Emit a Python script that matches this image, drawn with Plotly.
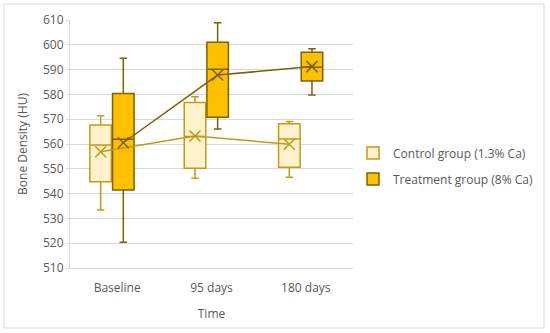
import plotly.graph_objects as go

categories = ["Baseline", "95 days", "180 days"]

ctrl_name = "Control group (1.3% Ca)"
ctrl_min = [533.4, 546.2, 546.6]
ctrl_q1 = [544.8, 550.2, 550.6]
ctrl_med = [559.6, 563.0, 562.0]
ctrl_q3 = [567.7, 576.7, 568.2]
ctrl_max = [571.4, 579.1, 569.1]
ctrl_mean = [556.9, 563.2, 559.9]

trt_name = "Treatment group (8% Ca)"
trt_min = [520.4, 566.0, 579.8]
trt_q1 = [541.5, 570.8, 585.4]
trt_med = [561.9, 590.1, 590.9]
trt_q3 = [580.4, 601.0, 597.0]
trt_max = [594.6, 608.9, 598.4]
trt_mean = [560.5, 587.8, 591.2]

y_ticks = list(range(510, 611, 10))

CTRL_FILL, CTRL_LINE = "#FFF2CC", "#C49A12"
TRT_FILL, TRT_LINE = "#FFC000", "#7F6000"
CTRL_OFF, TRT_OFF, BOX_W = -0.175, 0.065, 0.228
TXT = "#595959"
FONT = "Open Sans"

idx = list(range(len(categories)))
cx = [i + CTRL_OFF for i in idx]
tx = [i + TRT_OFF for i in idx]

fig = go.Figure()
fig.add_trace(go.Box(
    x=cx, q1=ctrl_q1, median=ctrl_med, q3=ctrl_q3,
    lowerfence=ctrl_min, upperfence=ctrl_max,
    width=BOX_W, whiskerwidth=0.35, fillcolor=CTRL_FILL,
    line=dict(color=CTRL_LINE, width=1.5), name=ctrl_name,
    legendgroup="c", hoverinfo="skip"))
fig.add_trace(go.Box(
    x=tx, q1=trt_q1, median=trt_med, q3=trt_q3,
    lowerfence=trt_min, upperfence=trt_max,
    width=BOX_W, whiskerwidth=0.35, fillcolor=TRT_FILL,
    line=dict(color=TRT_LINE, width=1.5), name=trt_name,
    legendgroup="t", hoverinfo="skip"))
fig.add_trace(go.Scatter(
    x=cx, y=ctrl_mean, mode="lines+markers", showlegend=False,
    line=dict(color=CTRL_LINE, width=1.5),
    marker=dict(symbol="x-thin-open", size=11,
                line=dict(color=CTRL_LINE, width=1.5))))
fig.add_trace(go.Scatter(
    x=tx, y=trt_mean, mode="lines+markers", showlegend=False,
    line=dict(color=TRT_LINE, width=1.5),
    marker=dict(symbol="x-thin-open", size=11,
                line=dict(color=TRT_LINE, width=1.5))))

fig.update_layout(
    width=550, height=333,
    margin=dict(l=70, r=197, t=20, b=65, autoexpand=False),
    paper_bgcolor="white", plot_bgcolor="white",
    font=dict(family=FONT, size=12, color=TXT),
    boxmode="overlay",
    showlegend=True,
    legend=dict(x=1.0, xanchor="left", y=0.522, yanchor="top",
                font=dict(size=12, color=TXT),
                tracegroupgap=7, traceorder="grouped",
                bgcolor="rgba(0,0,0,0)"),
    xaxis=dict(range=[-0.5, 2.5], tickmode="array", tickvals=idx,
               ticktext=categories, showgrid=False, zeroline=False,
               showline=True, linecolor="#D9D9D9", linewidth=1,
               ticks="", ticklabelstandoff=9,
               tickfont=dict(size=12, color=TXT),
               title=dict(text="Time", font=dict(size=12, color=TXT),
                          standoff=14)),
    yaxis=dict(range=[510, 610], tickmode="array", tickvals=y_ticks,
               showgrid=True, gridcolor="#D9D9D9", gridwidth=1,
               zeroline=False, showline=True, linecolor="#D9D9D9",
               ticks="outside", ticklen=3, tickcolor="#D9D9D9",
               tickfont=dict(size=12, color=TXT),
               title=dict(text="Bone Density (HU)",
                          font=dict(size=12, color=TXT), standoff=12)),
    shapes=[dict(type="rect", xref="paper", yref="paper",
                 x0=(4 - 70) / 283, x1=(544 - 70) / 283,
                 y0=(268 - 328) / 248, y1=(268 - 4) / 248,
                 line=dict(color="#D9D9D9", width=1),
                 fillcolor="rgba(0,0,0,0)", layer="below")],
)

fig.write_html("out.html", config={"displayModeBar": False},
               post_script="document.body.style.margin='0';document.body.style.overflow='hidden';")
